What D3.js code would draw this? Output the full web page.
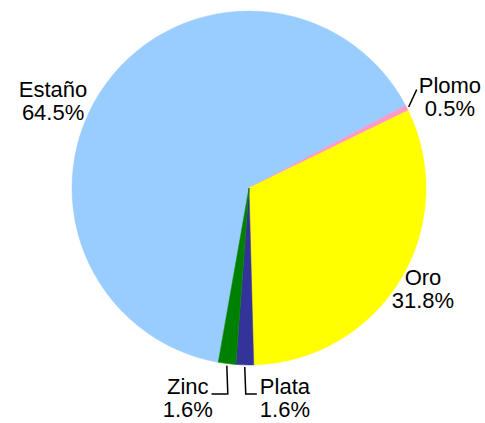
<!DOCTYPE html>
<html>
<head>
<meta charset="utf-8">
<script src="https://cdn.jsdelivr.net/npm/d3@7"></script>
<style>
  body { margin: 0; background: #fff; }
  svg { display: block; }
  .lbl { font-family: Arial, "Liberation Sans", sans-serif; font-size: 22px; fill: #000; }
</style>
</head>
<body>
<div id="chart"></div>
<script>
// data, in drawing order (clockwise)
var metals = ["Estaño", "Plomo", "Oro", "Plata", "Zinc"];
var shares = [64.5, 0.5, 31.8, 1.6, 1.6];
var pctLabels = ["64.5%", "0.5%", "31.8%", "1.6%", "1.6%"];
var colors = ["#99ccff", "#ff99cc", "#ffff00", "#333399", "#008000"];

var svgWidth = 485;
var svgHeight = 423;
var cx = 249, cy = 188, radius = 177;

// label block centres, relative to pie centre (in radius units), plus leader style
var labelLayout = {
  "Estaño": { dx: -1.107, dy: -0.491, leader: null },
  "Plomo":  { dx: 1.135, dy: -0.516, leader: "straight" },
  "Oro":    { dx: 0.983, dy: 0.570,  leader: null },
  "Plata":  { dx: 0.203, dy: 1.187,  leader: "right" },
  "Zinc":   { dx: -0.346, dy: 1.187, leader: "left" }
};

var svg = d3.select("#chart")
  .append("svg")
  .attr("width", svgWidth)
  .attr("height", svgHeight);

var chartGroup = svg.append("g")
  .attr("transform", `translate(${cx}, ${cy})`);

var startDeg = 190;
var pie = d3.pie()
  .sort(null)
  .value(d => d.value)
  .startAngle(startDeg * Math.PI / 180)
  .endAngle(startDeg * Math.PI / 180 + 2 * Math.PI);

var data = metals.map((m, i) => ({ name: m, value: shares[i], pct: pctLabels[i], color: colors[i] }));
var arcs = pie(data);

var arc = d3.arc().innerRadius(0).outerRadius(radius);

chartGroup.selectAll("path.slice")
  .data(arcs)
  .enter()
  .append("path")
  .attr("class", "slice")
  .attr("d", arc)
  .attr("fill", d => d.data.color)
  .attr("stroke", d => d.data.color)
  .attr("stroke-width", 0.5);

function polar(a, r) {
  return [r * Math.sin(a), -r * Math.cos(a)];
}

var lineH = 23;

arcs.forEach(function(d) {
  var lay = labelLayout[d.data.name];
  var lx = lay.dx * radius;
  var ly = lay.dy * radius;

  var t = chartGroup.append("text")
    .attr("class", "lbl")
    .attr("text-anchor", "middle");
  t.append("tspan").attr("x", lx).attr("y", ly - 4).text(d.data.name);
  t.append("tspan").attr("x", lx).attr("y", ly - 4 + lineH).text(d.data.pct);

  if (!lay.leader) return;
  var mid = (d.startAngle + d.endAngle) / 2;
  var p0 = polar(mid, radius + 2);
  var pts;
  var textW = t.select("tspan").node().getComputedTextLength();
  var lineY = ly - 4;
  if (lay.leader === "straight") {
    pts = [p0, [lx - textW / 2 - 2, ly - 4 - 3]];
  } else if (lay.leader === "left") {
    pts = [p0, [p0[0] + 1, lineY], [lx + textW / 2 + 3, lineY]];
  } else {
    pts = [p0, [p0[0] + 1, lineY], [lx - textW / 2 - 3, lineY]];
  }
  chartGroup.append("path")
    .attr("d", d3.line()(pts))
    .attr("fill", "none")
    .attr("stroke", "#000")
    .attr("stroke-width", 1.5);
});
</script>
</body>
</html>
